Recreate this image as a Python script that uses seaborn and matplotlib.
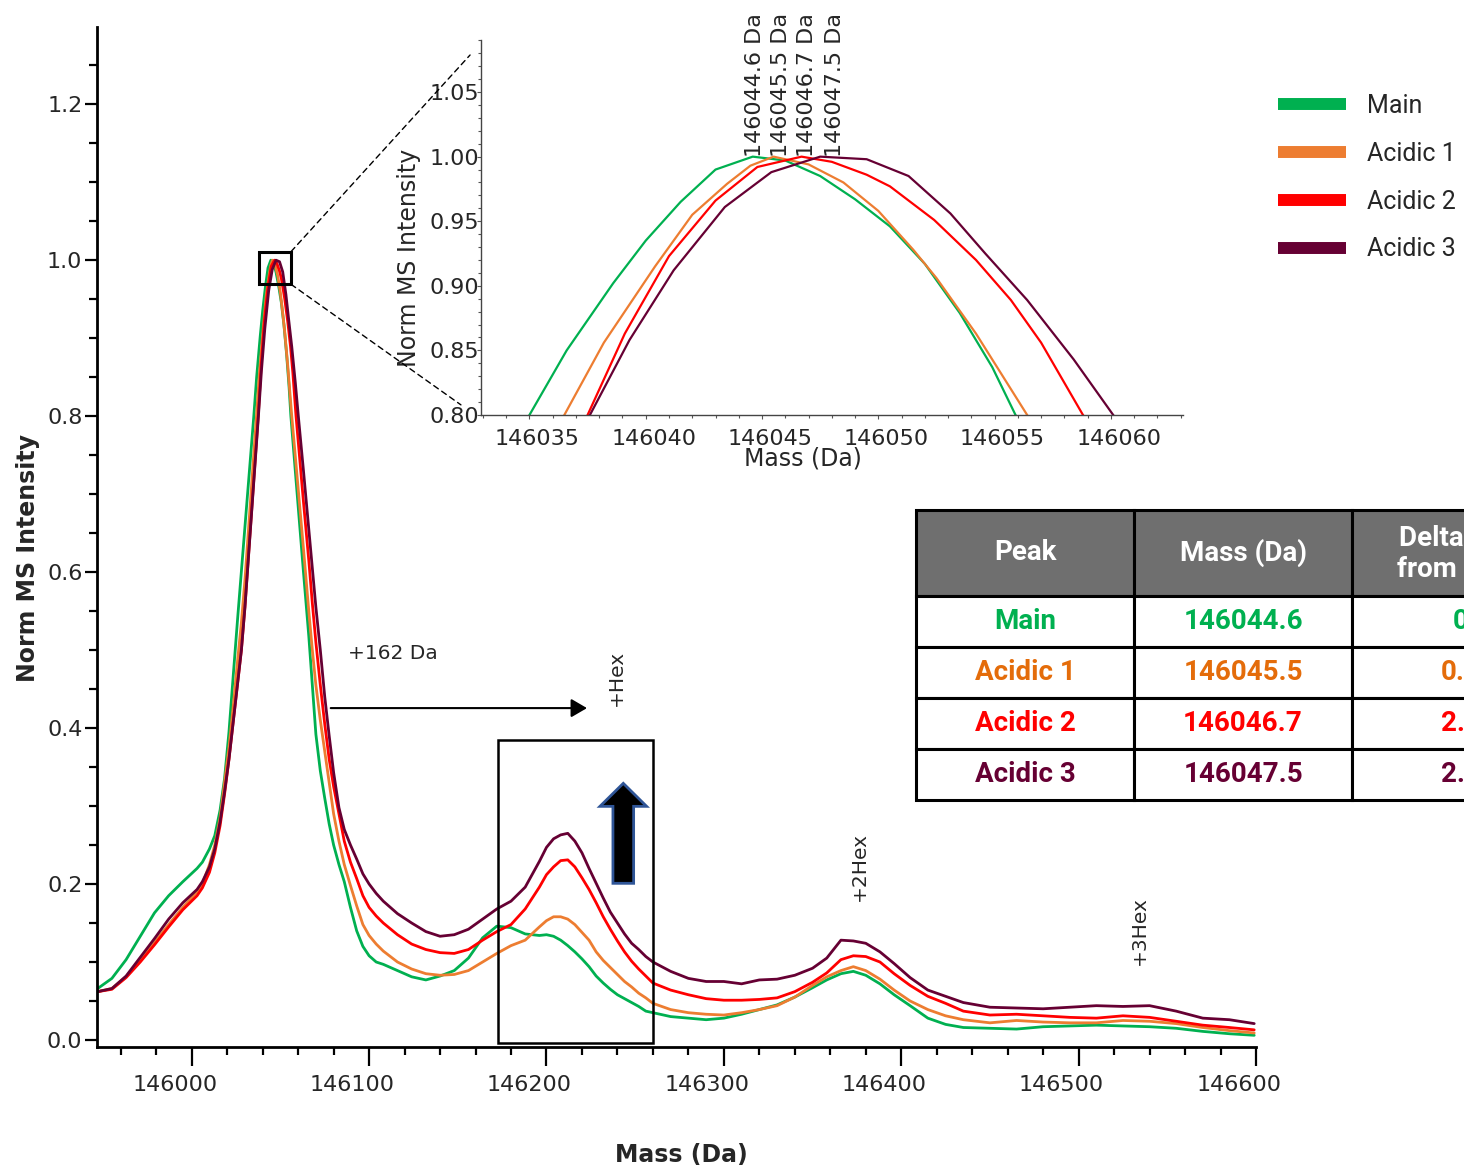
import matplotlib
matplotlib.use("Agg")
import matplotlib.pyplot as plt
import pandas as pd
import seaborn as sns
from matplotlib.patches import Rectangle, FancyArrow, ConnectionPatch
from matplotlib.ticker import MultipleLocator, FormatStrFormatter
from matplotlib.transforms import ScaledTranslation

series_names = ["Main", "Acidic 1", "Acidic 2", "Acidic 3"]
line_colors = ["#00B050", "#ED7D31", "#FF0000", "#660033"]
text_colors = ["#00B050", "#E46C0A", "#FF0000", "#660033"]

# Deconvolved apex masses (Da)
peak_mass = [146044.6, 146045.5, 146046.7, 146047.5]

# Shared mass grid (Da) for the profile outside the main apex
mass = [145947, 145955, 145963, 145971, 145979, 145987, 145995, 146003, 146006, 146010, 146013, 146016,
        146018.5, 146021, 146023.5, 146026, 146028, 146030,
        146063, 146066, 146068, 146070, 146072.5, 146075, 146077.5, 146080, 146083, 146086, 146089.5,
        146093, 146096.5, 146100, 146104,
        146108, 146116, 146124, 146132, 146140, 146148, 146156, 146164, 146172, 146180, 146188,
        146196, 146200, 146204, 146208, 146212, 146216, 146220, 146224, 146228, 146232, 146236, 146240,
        146244, 146248, 146252, 146256, 146260,
        146270, 146280, 146290, 146300, 146310, 146320, 146330, 146340, 146350, 146358,
        146366, 146373, 146380, 146388, 146396, 146405, 146415, 146425, 146435, 146450,
        146465, 146480, 146495, 146510, 146525, 146540, 146555, 146570, 146585, 146599]

main_int = [0.066, 0.079, 0.103, 0.133, 0.163, 0.185, 0.203, 0.220, 0.228, 0.245, 0.262, 0.295,
            0.335, 0.395, 0.470, 0.544, 0.601, 0.658,
            0.600, 0.518, 0.455, 0.392, 0.345, 0.310, 0.277, 0.250, 0.225, 0.203, 0.170,
            0.140, 0.120, 0.108, 0.100,
            0.097, 0.089, 0.081, 0.077, 0.082, 0.089, 0.105, 0.131, 0.146, 0.144, 0.136,
            0.134, 0.135, 0.133, 0.128, 0.121, 0.113, 0.104, 0.094, 0.082, 0.073, 0.065, 0.058,
            0.053, 0.048, 0.043, 0.037, 0.035,
            0.030, 0.028, 0.026, 0.028, 0.033, 0.039, 0.045, 0.055, 0.067, 0.077,
            0.085, 0.088, 0.083, 0.072, 0.058, 0.044, 0.028, 0.020, 0.016, 0.015,
            0.014, 0.017, 0.018, 0.019, 0.018, 0.017, 0.015, 0.011, 0.008, 0.006]

acidic1_int = [0.062, 0.066, 0.081, 0.102, 0.125, 0.148, 0.170, 0.190, 0.200, 0.225, 0.250, 0.285,
               0.330, 0.375, 0.430, 0.490, 0.535, 0.590,
               0.630, 0.550, 0.500, 0.455, 0.410, 0.370, 0.330, 0.290, 0.255, 0.225, 0.198,
               0.172, 0.148, 0.134, 0.123,
               0.114, 0.100, 0.091, 0.085, 0.083, 0.084, 0.089, 0.100, 0.111, 0.121, 0.128,
               0.145, 0.153, 0.158, 0.158, 0.155, 0.148, 0.138, 0.128, 0.113, 0.102, 0.093, 0.084,
               0.075, 0.068, 0.060, 0.054, 0.047,
               0.039, 0.035, 0.033, 0.032, 0.035, 0.039, 0.044, 0.055, 0.070, 0.081,
               0.089, 0.094, 0.089, 0.078, 0.064, 0.050, 0.039, 0.031, 0.026, 0.022,
               0.025, 0.023, 0.022, 0.022, 0.025, 0.024, 0.021, 0.016, 0.012, 0.009]

acidic2_int = [0.062, 0.065, 0.080, 0.100, 0.122, 0.145, 0.167, 0.185, 0.195, 0.215, 0.240, 0.275,
               0.315, 0.360, 0.410, 0.460, 0.500, 0.555,
               0.690, 0.615, 0.560, 0.510, 0.455, 0.405, 0.360, 0.325, 0.290, 0.255, 0.228,
               0.207, 0.185, 0.170, 0.159,
               0.150, 0.135, 0.123, 0.116, 0.112, 0.111, 0.116, 0.128, 0.139, 0.148, 0.168,
               0.196, 0.212, 0.222, 0.230, 0.231, 0.222, 0.208, 0.193, 0.176, 0.158, 0.142, 0.127,
               0.113, 0.101, 0.091, 0.082, 0.073,
               0.064, 0.058, 0.053, 0.051, 0.051, 0.052, 0.054, 0.062, 0.074, 0.086,
               0.103, 0.108, 0.107, 0.100, 0.085, 0.070, 0.056, 0.047, 0.037, 0.032,
               0.033, 0.031, 0.029, 0.028, 0.031, 0.029, 0.024, 0.019, 0.016, 0.013]

acidic3_int = [0.062, 0.066, 0.082, 0.106, 0.130, 0.155, 0.176, 0.193, 0.203, 0.222, 0.245, 0.280,
               0.318, 0.360, 0.410, 0.460, 0.500, 0.555,
               0.730, 0.655, 0.605, 0.555, 0.500, 0.440, 0.390, 0.343, 0.298, 0.270, 0.250,
               0.232, 0.213, 0.200, 0.188,
               0.178, 0.162, 0.150, 0.139, 0.133, 0.135, 0.142, 0.155, 0.168, 0.178, 0.196,
               0.229, 0.247, 0.258, 0.263, 0.265, 0.255, 0.240, 0.220, 0.201, 0.182, 0.164, 0.150,
               0.136, 0.124, 0.116, 0.107, 0.100,
               0.088, 0.079, 0.075, 0.075, 0.072, 0.077, 0.078, 0.083, 0.092, 0.105,
               0.128, 0.127, 0.124, 0.113, 0.098, 0.080, 0.064, 0.056, 0.048, 0.042,
               0.041, 0.040, 0.042, 0.044, 0.043, 0.044, 0.037, 0.028, 0.026, 0.021]

# Finer sampling across the top of the main peak
apex_mass_main = [146035.0, 146036.6, 146038.6, 146040.0, 146041.5, 146043.0, 146044.6, 146046.0,
                  146047.5, 146049.0, 146050.5, 146052.0, 146053.5, 146054.9, 146055.9]
apex_int_main = [0.800, 0.850, 0.902, 0.935, 0.965, 0.990, 1.000, 0.997,
                 0.985, 0.967, 0.946, 0.917, 0.879, 0.837, 0.800]

apex_mass_a1 = [146036.5, 146038.2, 146040.4, 146042.0, 146043.5, 146044.5, 146045.5, 146047.0,
                146048.5, 146050.0, 146051.5, 146052.5, 146054.2, 146056.4]
apex_int_a1 = [0.800, 0.856, 0.915, 0.955, 0.979, 0.993, 1.000, 0.994,
               0.980, 0.958, 0.928, 0.906, 0.863, 0.800]

apex_mass_a2 = [146037.5, 146039.1, 146041.0, 146043.0, 146044.8, 146046.7, 146048.0, 146049.5,
                146050.5, 146052.4, 146054.2, 146055.7, 146057.0, 146058.8]
apex_int_a2 = [0.800, 0.863, 0.923, 0.966, 0.992, 1.000, 0.996, 0.986,
               0.977, 0.951, 0.920, 0.889, 0.856, 0.800]

apex_mass_a3 = [146037.6, 146039.3, 146041.2, 146043.4, 146045.4, 146047.5, 146049.5, 146051.3,
                146053.1, 146054.6, 146056.4, 146058.4, 146060.1]
apex_int_a3 = [0.800, 0.858, 0.912, 0.961, 0.988, 1.000, 0.998, 0.985,
               0.956, 0.925, 0.889, 0.843, 0.800]

profiles = [
    (main_int, apex_mass_main, apex_int_main),
    (acidic1_int, apex_mass_a1, apex_int_a1),
    (acidic2_int, apex_mass_a2, apex_int_a2),
    (acidic3_int, apex_mass_a3, apex_int_a3),
]
frames = []
for name, (grid_int, top_mass, top_int) in zip(series_names, profiles):
    frames.append(pd.DataFrame({
        "Mass (Da)": list(mass) + list(top_mass),
        "Norm MS Intensity": list(grid_int) + list(top_int),
        "Peak": name,
    }))
spectra = pd.concat(frames, ignore_index=True).sort_values(["Peak", "Mass (Da)"])

# Table contents
deltas = [m - peak_mass[0] for m in peak_mass]
delta_text = ["0" if abs(d) < 1e-9 else f"{d:.1f}" for d in deltas]
table_header = ["Peak", "Mass (Da)", "Delta (Da)\nfrom Main"]
table_rows = [[n, f"{m:.1f}", d] for n, m, d in zip(series_names, peak_mass, delta_text)]

sns.set_style("ticks")
plt.rcParams["font.family"] = ["DejaVu Sans"]

W, H = 1464, 1169
fig = plt.figure(figsize=(W / 100, H / 100), dpi=100)


def fig_rect(x0, y0, x1, y1):
    return [x0 / W, 1 - y1 / H, (x1 - x0) / W, (y1 - y0) / H]


# ---------------- main spectrum ----------------
ax = fig.add_axes(fig_rect(97, 27, 1256, 1047))
sns.lineplot(data=spectra, x="Mass (Da)", y="Norm MS Intensity", hue="Peak",
             hue_order=series_names, palette=line_colors, linewidth=2.0,
             estimator=None, sort=True, ax=ax)
ax.set_xlim(145946.6, 146600)
ax.set_ylim(-0.009, 1.299)
sns.despine(ax=ax)
for side in ["left", "bottom"]:
    ax.spines[side].set_linewidth(2.0)
    ax.spines[side].set_color("black")
ax.xaxis.set_major_locator(MultipleLocator(100))
ax.xaxis.set_minor_locator(MultipleLocator(20))
ax.yaxis.set_major_locator(MultipleLocator(0.2))
ax.yaxis.set_minor_locator(MultipleLocator(0.05))
ax.xaxis.set_major_formatter(FormatStrFormatter("%d"))
ax.yaxis.set_major_formatter(FormatStrFormatter("%.1f"))
ax.tick_params(axis="x", which="major", length=13.5, width=1.6, labelsize=16, pad=7, color="black")
ax.tick_params(axis="x", which="minor", length=6, width=1.6, color="black")
ax.tick_params(axis="y", which="major", length=8.5, width=1.6, labelsize=16, pad=2, color="black")
ax.tick_params(axis="y", which="minor", length=6, width=1.6, color="black")
shift_left = ScaledTranslation(-0.17, 0, fig.dpi_scale_trans)
for lab in ax.get_xticklabels():
    lab.set_transform(lab.get_transform() + shift_left)

ax.set_xlabel("Mass (Da)", fontsize=17, fontweight="bold")
ax.set_ylabel("Norm MS Intensity", fontsize=17, fontweight="bold")
ax.xaxis.set_label_coords(0.504, -0.106)
ax.xaxis.label.set_va("center")
ax.yaxis.set_label_coords(-0.0595, 0.479)
ax.yaxis.label.set_va("center")

# legend moved to the right margin with thick swatches
handles, labels = ax.get_legend_handles_labels()
ax.get_legend().remove()
leg = fig.legend(handles, labels, loc="upper left", bbox_to_anchor=(0.873, 0.9195),
                 frameon=False, prop={"family": "Roboto", "size": 18},
                 handlelength=2.7, handletextpad=0.85, labelspacing=0.95,
                 borderpad=0, borderaxespad=0)
for ln in leg.get_lines():
    ln.set_linewidth(8.6)
    ln.set_solid_capstyle("butt")

# glycoform annotations
ax.annotate("", xy=(146224.4, 0.4256), xytext=(146076.8, 0.4256),
            arrowprops=dict(arrowstyle="-|>,head_length=0.6,head_width=0.35",
                            mutation_scale=16, lw=1.5, color="black"))
ax.text(146088.1, 0.495, "+162 Da", fontsize=14.5, ha="left", va="center")
ax.text(146239.4, 0.464, "+Hex", fontsize=14.5, rotation=90, ha="center", va="center")
ax.text(146376.5, 0.223, "+2Hex", fontsize=14.5, rotation=90, ha="center", va="center")
ax.text(146534.1, 0.140, "+3Hex", fontsize=14.5, rotation=90, ha="center", va="center")

ax.add_patch(Rectangle((146172.6, -0.0035), 146259.9 - 146172.6, 0.3846 + 0.0035,
                       fill=False, ec="black", lw=1.8, zorder=5))
ax.add_patch(FancyArrow(146243.3, 0.2009, 0, 0.1282, width=11.66, head_width=26.3,
                        head_length=0.0295, length_includes_head=True,
                        fc="black", ec="#2F5597", lw=2, zorder=6))

# marker around the apex that the inset enlarges
box_x0, box_x1, box_y0, box_y1 = 146038.0, 146056.0, 0.969, 1.011
ax.add_patch(Rectangle((box_x0, box_y0), box_x1 - box_x0, box_y1 - box_y0,
                       fill=False, ec="black", lw=2.2, zorder=6))

# ---------------- inset: apex close-up ----------------
ax_in = fig.add_axes(fig_rect(480.6, 40, 1183, 415))
ax_in.set_facecolor("none")
sns.lineplot(data=spectra, x="Mass (Da)", y="Norm MS Intensity", hue="Peak",
             hue_order=series_names, palette=line_colors, linewidth=1.6,
             estimator=None, sort=True, legend=False, ax=ax_in)
ax_in.set_xlim(146032.9, 146063.1)
ax_in.set_ylim(0.80, 1.0903)
sns.despine(ax=ax_in)
for side in ["left", "bottom"]:
    ax_in.spines[side].set_linewidth(1.0)
    ax_in.spines[side].set_color("#444444")
ax_in.xaxis.set_major_locator(MultipleLocator(5))
ax_in.xaxis.set_minor_locator(MultipleLocator(1))
ax_in.yaxis.set_major_locator(MultipleLocator(0.05))
ax_in.yaxis.set_minor_locator(MultipleLocator(0.01))
ax_in.xaxis.set_major_formatter(FormatStrFormatter("%d"))
ax_in.yaxis.set_major_formatter(FormatStrFormatter("%.2f"))
ax_in.tick_params(axis="x", which="major", length=3, width=0.8, color="#555555", labelsize=16, pad=7)
ax_in.tick_params(axis="x", which="minor", length=2, width=0.8, color="#555555")
ax_in.tick_params(axis="y", which="major", length=3, width=0.8, color="#555555", labelsize=16, pad=-2)
ax_in.tick_params(axis="y", which="minor", length=2, width=0.8, color="#555555")
shift_right = ScaledTranslation(0.08, 0, fig.dpi_scale_trans)
for lab in ax_in.get_xticklabels():
    lab.set_transform(lab.get_transform() + shift_right)
ax_in.set_xlabel("Mass (Da)", fontsize=17)
ax_in.set_ylabel("Norm MS Intensity", fontsize=17)
ax_in.xaxis.set_label_coords(0.459, -0.117)
ax_in.xaxis.label.set_va("center")
ax_in.yaxis.set_label_coords(-0.102, 0.419)
ax_in.yaxis.label.set_va("center")

# apex mass labels, nudged sideways (pixels) so the vertical texts sit side by side
label_nudge_px = [2.6, 7.7, 5.8, 15.2]
for m, nudge in zip(peak_mass, label_nudge_px):
    tr = ax_in.transData + ScaledTranslation(nudge / 100, 0, fig.dpi_scale_trans)
    ax_in.text(m, 1.0, f"{m:.1f} Da", rotation=90, fontsize=16, ha="center", va="bottom",
               transform=tr, clip_on=False)

for corner_y, target in [(box_y1, (-0.015, 0.96)), (box_y0, (-0.028, 0.027))]:
    con = ConnectionPatch(xyA=(box_x1, corner_y), coordsA=ax.transData,
                          xyB=target, coordsB=ax_in.transAxes,
                          linestyle=(0, (4, 3)), lw=1.0, color="black")
    fig.add_artist(con)

# ---------------- summary table ----------------
tab_ax = fig.add_axes(fig_rect(916, 510, 1570, 800))
tab_ax.axis("off")
tbl = tab_ax.table(cellText=table_rows, colLabels=table_header, cellLoc="center",
                   bbox=[0, 0, 1, 1])
tbl.auto_set_font_size(False)
for (r, c), cell in tbl.get_celld().items():
    cell.set_edgecolor("black")
    cell.set_linewidth(2.2)
    cell.set_height(86 if r == 0 else 51)
    txt = cell.get_text()
    txt.set_fontfamily("Roboto")
    txt.set_fontweight("bold")
    txt.set_fontsize(20)
    if r == 0:
        cell.set_facecolor("#6F6F6F")
        txt.set_color("white")
    else:
        cell.set_facecolor("white")
        txt.set_color(text_colors[r - 1])

fig.savefig("out.png", dpi=100)
